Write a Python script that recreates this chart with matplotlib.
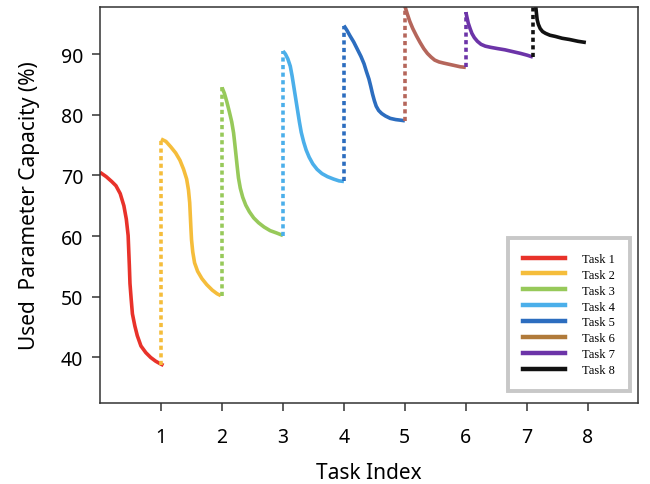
import matplotlib.pyplot as plt

# -----------------------------
# Data
# -----------------------------
task_names = ["Task 1", "Task 2", "Task 3", "Task 4", "Task 5", "Task 6", "Task 7", "Task 8"]

t1_x = [0.00, 0.10, 0.19, 0.26, 0.33, 0.39, 0.43, 0.46, 0.47, 0.48, 0.49, 0.51, 0.53, 0.57, 0.61, 0.67, 0.75, 0.83, 0.91, 0.98, 1.04]
t1_y = [70.5, 69.8, 69.0, 68.3, 67.0, 65.0, 62.8, 60.1, 57.6, 55.1, 52.2, 49.6, 47.2, 45.2, 43.6, 41.9, 40.8, 40.0, 39.4, 39.0, 38.7]

t2_x = [1.00, 1.08, 1.16, 1.24, 1.31, 1.37, 1.42, 1.45, 1.47, 1.48, 1.49, 1.50, 1.52, 1.55, 1.60, 1.67, 1.75, 1.84, 1.92, 1.98]
t2_y = [76.0, 75.6, 74.7, 73.7, 72.5, 71.0, 69.4, 67.6, 65.5, 63.4, 61.3, 59.4, 57.4, 55.6, 54.2, 53.0, 52.0, 51.1, 50.5, 50.2]

t3_x = [2.00, 2.04, 2.08, 2.12, 2.16, 2.19, 2.21, 2.23, 2.25, 2.27, 2.30, 2.34, 2.39, 2.45, 2.52, 2.60, 2.69, 2.79, 2.90, 3.00]
t3_y = [84.5, 83.5, 82.1, 80.5, 78.8, 77.0, 75.2, 73.3, 71.4, 69.6, 67.9, 66.4, 65.1, 64.0, 63.0, 62.2, 61.5, 60.9, 60.5, 60.1]

t4_x = [3.00, 3.04, 3.08, 3.12, 3.15, 3.18, 3.21, 3.24, 3.27, 3.30, 3.34, 3.38, 3.43, 3.49, 3.56, 3.64, 3.73, 3.83, 3.92, 4.00]
t4_y = [90.5, 90.0, 89.2, 88.0, 86.4, 84.5, 82.6, 80.7, 78.8, 77.1, 75.5, 74.2, 73.0, 71.9, 71.0, 70.3, 69.8, 69.4, 69.1, 69.0]

t5_x = [4.00, 4.05, 4.10, 4.16, 4.22, 4.28, 4.33, 4.37, 4.41, 4.44, 4.47, 4.50, 4.53, 4.57, 4.62, 4.68, 4.76, 4.85, 4.93, 5.00]
t5_y = [94.7, 93.9, 93.0, 92.0, 90.8, 89.6, 88.4, 87.1, 85.9, 84.7, 83.4, 82.3, 81.4, 80.7, 80.2, 79.8, 79.4, 79.2, 79.1, 79.0]

t6_x = [5.00, 5.04, 5.08, 5.13, 5.19, 5.25, 5.31, 5.37, 5.43, 5.49, 5.56, 5.64, 5.73, 5.82, 5.91, 6.00]
t6_y = [97.9, 96.6, 95.4, 94.2, 93.0, 91.9, 90.9, 90.1, 89.5, 89.0, 88.7, 88.5, 88.3, 88.1, 87.9, 87.8]

t7_x = [6.00, 6.02, 6.04, 6.07, 6.10, 6.14, 6.19, 6.25, 6.32, 6.41, 6.52, 6.64, 6.77, 6.90, 7.01, 7.10]
t7_y = [96.9, 96.0, 95.1, 94.2, 93.4, 92.7, 92.1, 91.6, 91.3, 91.1, 90.9, 90.7, 90.4, 90.1, 89.8, 89.5]

t8_x = [7.14, 7.15, 7.16, 7.17, 7.19, 7.22, 7.26, 7.31, 7.38, 7.47, 7.58, 7.70, 7.84, 7.97]
t8_y = [98.5, 97.6, 96.6, 95.7, 94.9, 94.2, 93.7, 93.4, 93.1, 92.9, 92.6, 92.4, 92.1, 91.9]

task_x = [t1_x, t2_x, t3_x, t4_x, t5_x, t6_x, t7_x, t8_x]
task_y = [t1_y, t2_y, t3_y, t4_y, t5_y, t6_y, t7_y, t8_y]

# x position of the dotted jump that starts each task (tasks 2..8)
jump_x = [1.0, 2.0, 3.0, 4.0, 5.0, 6.0, 7.1]

line_colors = ["#e8322a", "#f5bd3b", "#97c95a", "#4bafea", "#2c6dbf", "#b5665b", "#6c34a8", "#111111"]
legend_colors = ["#e8322a", "#f5bd3b", "#97c95a", "#4bafea", "#2c6dbf", "#b07a3a", "#6c34a8", "#111111"]

# -----------------------------
# Plot
# -----------------------------
fig = plt.figure(figsize=(6.5, 4.85), dpi=100)
ax = fig.add_axes([0.154, 0.167, 0.828, 0.8165])

for i in range(len(task_names)):
    ax.plot(task_x[i], task_y[i], color=line_colors[i], lw=2.6,
            solid_capstyle="butt", solid_joinstyle="round")

for k, xj in enumerate(jump_x):
    prev_end = task_y[k][-1]
    next_start = task_y[k + 1][0]
    ax.plot([xj, xj], [prev_end, next_start], color=line_colors[k + 1], lw=2.6,
            linestyle=(0, (1.15, 0.95)), dash_capstyle="butt")

ax.set_xlim(0, 8.83)
ax.set_ylim(32.5, 97.75)
ax.set_xticks(range(1, 9))
ax.set_yticks([40, 50, 60, 70, 80, 90])

for s in ax.spines.values():
    s.set_color("#333333")
    s.set_linewidth(1.1)
ax.tick_params(direction="out", length=6, width=1.1, color="#333333",
               labelsize=14, pad=6)
ax.tick_params(axis="x", pad=11)
for lab in ax.get_xticklabels() + ax.get_yticklabels():
    lab.set_family("Noto Sans")

ax.set_xlabel("Task Index", fontsize=15, family="Noto Sans", labelpad=11)
ax.set_ylabel("Used  Parameter Capacity (%)", fontsize=15, family="Noto Sans", labelpad=15)

handles = [plt.Line2D([], [], color=c, lw=3.2) for c in legend_colors]
leg = ax.legend(handles, task_names, loc="lower right", bbox_to_anchor=(0.985, 0.03),
                prop={"family": "Liberation Serif", "size": 9},
                handlelength=3.4, handletextpad=1.35, labelspacing=0.31,
                borderpad=1.2, borderaxespad=0, fancybox=False, framealpha=1)
leg.get_frame().set_edgecolor("#c8c8c8")
leg.get_frame().set_linewidth(2.8)

fig.savefig("out.png", dpi=100)
